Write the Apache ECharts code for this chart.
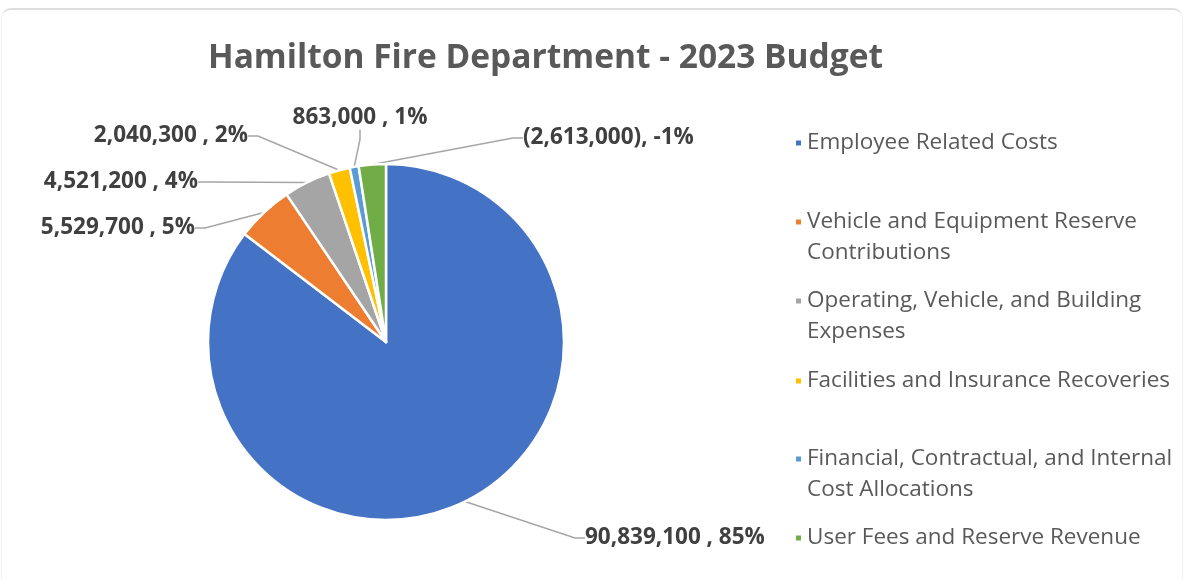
<!DOCTYPE html>
<html>
<head>
<meta charset="utf-8">
<script src="https://cdn.jsdelivr.net/npm/echarts@6/dist/echarts.min.js"></script>
<style>
html, body { margin: 0; padding: 0; background: #fff; }
#card { position: absolute; left: 1px; top: 8px; width: 1182px; height: 590px; border: 1px solid #efefef; border-top: 2px solid #dedede; border-radius: 10px 10px 0 0; box-sizing: border-box; }
#chart { position: absolute; left: 0; top: 0; width: 1184px; height: 579px; }
</style>
</head>
<body>
<div id="card"></div>
<div id="chart"></div>
<script>
// ---- data ----
const titleText = 'Hamilton Fire Department - 2023 Budget';
const categories = [
  'Employee Related Costs',
  'Vehicle and Equipment Reserve\nContributions',
  'Operating, Vehicle, and Building\nExpenses',
  'Facilities and Insurance Recoveries',
  'Financial, Contractual, and Internal\nCost Allocations',
  'User Fees and Reserve Revenue'
];
const values = [90839100, 5529700, 4521200, 2040300, 863000, -2613000];
const percentLabels = ['85%', '5%', '4%', '2%', '1%', '-1%'];
const colors = ['#4472C4', '#ED7D31', '#A5A5A5', '#FFC000', '#5B9BD5', '#70AD47'];

// ---- layout (label anchor positions, legend rows) ----
const LABEL_PAD = 6;
const labelPos = [
  [585 - LABEL_PAD, 538, 'left'],
  [195 + LABEL_PAD, 228, 'right'],
  [198 + LABEL_PAD, 182, 'right'],
  [248 + LABEL_PAD, 136, 'right'],
  [360, 118, 'center'],
  [523 - LABEL_PAD, 138, 'left']
];
const legendRowY = [143, 222, 301, 381, 459, 538];
const LINE_H = 31;

function fmtValue(v) {
  const s = Math.abs(v).toLocaleString('en-US');
  return v < 0 ? '(' + s + ')' : s + ' ';
}

const FONT = '"Open Sans", "DejaVu Sans", sans-serif';

const chart = echarts.init(document.getElementById('chart'));

const legends = categories.map((name, i) => {
  const twoLine = name.indexOf('\n') >= 0;
  return {
    show: true,
    orient: 'vertical',
    left: 794,
    top: twoLine ? legendRowY[i] - LINE_H * 1.5 : legendRowY[i] - LINE_H / 2,
    padding: 0,
    itemWidth: 7,
    itemHeight: 7,
    icon: 'rect',
    selectedMode: false,
    data: [name],
    // an empty leading line keeps the marker level with the first text line
    formatter: (n) => (n.indexOf('\n') >= 0 ? '\n' + n : n),
    textStyle: {
      fontFamily: FONT,
      fontSize: 22.5,
      color: '#595959',
      lineHeight: LINE_H
    }
  };
});

chart.setOption({
  animation: false,
  color: colors,
  title: {
    text: titleText,
    left: 208,
    top: 41,
    padding: 0,
    textStyle: {
      fontFamily: FONT,
      fontSize: 33.5,
      fontWeight: 'bold',
      color: '#595959'
    }
  },
  legend: legends,
  series: [{
    type: 'pie',
    center: [386, 342],
    radius: 178,
    startAngle: 90,
    clockwise: true,
    avoidLabelOverlap: false,
    silent: true,
    itemStyle: { borderColor: '#fff', borderWidth: 2.5 },
    data: categories.map((name, i) => ({ name: name, value: Math.abs(values[i]) })),
    label: {
      show: true,
      position: 'outside',
      fontFamily: FONT,
      fontSize: 22.5,
      fontWeight: 'bold',
      color: '#404040',
      padding: [3, LABEL_PAD, 3, LABEL_PAD],
      formatter: (p) => fmtValue(values[p.dataIndex]) + ', ' + percentLabels[p.dataIndex]
    },
    labelLine: {
      show: true,
      length: 10,
      length2: 10,
      lineStyle: { color: '#a6a6a6', width: 1.5 }
    },
    labelLayout: function (params) {
      const p = labelPos[params.dataIndex];
      return { x: p[0], y: p[1], align: p[2], verticalAlign: 'middle' };
    }
  }]
});
</script>
</body>
</html>
